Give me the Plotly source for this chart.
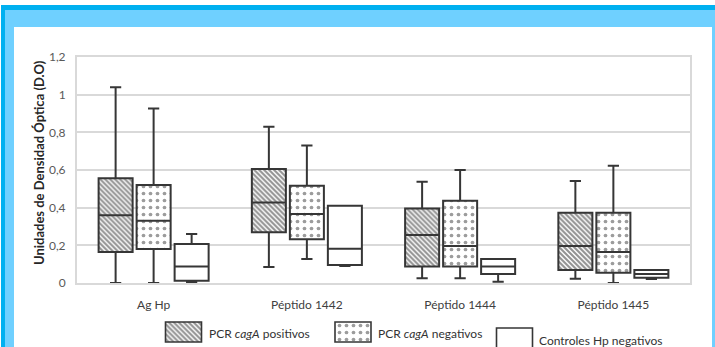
import plotly.graph_objects as go

# ---------------- data ----------------
categories = ["Ag Hp", "Péptido 1442", "Péptido 1444", "Péptido 1445"]

pos_min = [0.0, 0.085, 0.025, 0.023]
pos_q1 = [0.165, 0.27, 0.087, 0.069]
pos_med = [0.36, 0.428, 0.255, 0.196]
pos_q3 = [0.556, 0.605, 0.396, 0.373]
pos_max = [1.04, 0.83, 0.537, 0.541]

neg_min = [0.0, 0.127, 0.025, 0.0]
neg_q1 = [0.18, 0.232, 0.087, 0.055]
neg_med = [0.33, 0.366, 0.196, 0.164]
neg_q3 = [0.52, 0.516, 0.437, 0.373]
neg_max = [0.927, 0.73, 0.6, 0.622]

ctl_min = [0.005, 0.09, 0.007, 0.021]
ctl_q1 = [0.012, 0.095, 0.048, 0.028]
ctl_med = [0.087, 0.182, 0.087, 0.048]
ctl_q3 = [0.207, 0.41, 0.127, 0.069]
ctl_max = [0.26, 0.41, 0.127, 0.069]

series_names = ["PCR <i>cagA</i> positivos", "PCR <i>cagA</i> negativos", "Controles Hp negativos"]

# ---------------- layout constants ----------------
W, H = 715, 347
PX_L, PX_R, PX_T, PX_B = 77, 690, 57, 283     # plot area in pixels
OFFSETS = [-0.248, 0.0, 0.248]
BOX_W = 0.222
FONT = "Lato"
LINE = "#363636"

hatch = dict(shape="\\", size=3.5, solidity=0.6, fgcolor="#262626", bgcolor="white")
dots = dict(shape=".", size=7, solidity=0.22, fgcolor="#3a3a3a", bgcolor="white")
patterns = [hatch, dots, None]

def px_x(p):
    return p / W

def px_y(p):
    return 1 - p / H

fig = go.Figure()

stats = [
    (pos_min, pos_q1, pos_med, pos_q3, pos_max),
    (neg_min, neg_q1, neg_med, neg_q3, neg_max),
    (ctl_min, ctl_q1, ctl_med, ctl_q3, ctl_max),
]

for k, (mn, q1, md, q3, mx) in enumerate(stats):
    xs = [i + OFFSETS[k] for i in range(len(categories))]
    if patterns[k] is not None:
        fig.add_trace(go.Bar(
            x=xs, base=q1, y=[b - a for a, b in zip(q1, q3)],
            width=BOX_W, marker=dict(color="white", pattern=patterns[k], line=dict(width=0)),
            showlegend=False, hoverinfo="skip",
        ))
    fig.add_trace(go.Box(
        x=xs, q1=q1, median=md, q3=q3, lowerfence=mn, upperfence=mx,
        width=BOX_W, whiskerwidth=0.33,
        fillcolor="rgba(0,0,0,0)" if patterns[k] is not None else "white",
        line=dict(color=LINE, width=2), boxpoints=False,
        name=series_names[k], showlegend=False,
    ))

# ---------------- custom legend (swatches on a pixel overlay axis) ----------------
leg_cx = [183.5, 353, 514.5]
leg_top = [322, 322, 328]
leg_h = [20, 20, 24]
for k in range(3):
    fig.add_trace(go.Bar(
        x=[leg_cx[k]], base=[leg_top[k]], y=[leg_h[k]], width=[36],
        marker=dict(color="white", pattern=patterns[k] if patterns[k] else dict(shape=""),
                    line=dict(color=LINE, width=1.6)),
        xaxis="x2", yaxis="y2", showlegend=False, hoverinfo="skip",
    ))

leg_tx = [207, 376, 537]
leg_ty = [333, 333, 340]
annotations = []
for k in range(3):
    annotations.append(dict(
        x=px_x(leg_tx[k]), y=px_y(leg_ty[k]), xref="paper", yref="paper",
        text=series_names[k], showarrow=False, xanchor="left", yanchor="middle",
        font=dict(family=FONT, size=12, color="#333333"),
    ))

annotations.append(dict(
    x=px_x(39), y=px_y(163), xref="paper", yref="paper",
    text="<b>Unidades de Densidad Óptica (D.O)</b>", textangle=-90, showarrow=False,
    xanchor="center", yanchor="middle", font=dict(family=FONT, size=13, color="#262626"),
))

# ---------------- frame ----------------
shapes = [
    dict(type="rect", xref="paper", yref="paper", x0=px_x(1), x1=px_x(730), y0=px_y(5), y1=px_y(370),
         fillcolor="#00B0F0", line=dict(width=0), layer="below"),
    dict(type="rect", xref="paper", yref="paper", x0=px_x(5), x1=px_x(730), y0=px_y(10), y1=px_y(370),
         fillcolor="#6FD0FF", line=dict(width=0), layer="below"),
    dict(type="rect", xref="paper", yref="paper", x0=px_x(14), x1=px_x(712), y0=px_y(27), y1=px_y(370),
         fillcolor="white", line=dict(width=0), layer="below"),
]

fig.update_layout(
    width=W, height=H,
    margin=dict(l=0, r=0, t=0, b=0),
    paper_bgcolor="white", plot_bgcolor="rgba(0,0,0,0)",
    separators=",.",
    barmode="overlay",
    font=dict(family=FONT, size=12, color="#404040"),
    showlegend=False,
    xaxis=dict(
        domain=[px_x(PX_L), px_x(PX_R)], range=[-0.5, len(categories) - 0.5],
        tickvals=list(range(len(categories))), ticktext=categories,
        showgrid=False, zeroline=False, showline=True, mirror=True,
        linecolor="#d9d9d9", linewidth=2, ticks="", ticklabelstandoff=10,
        tickfont=dict(family=FONT, size=12, color="#404040"), automargin=False,
    ),
    yaxis=dict(
        domain=[px_y(PX_B), px_y(PX_T)], range=[0, 1.2], dtick=0.2,
        showgrid=True, gridcolor="#d9d9d9", gridwidth=2, zeroline=False,
        showline=True, mirror=True, linecolor="#d9d9d9", linewidth=2, ticks="",
        ticklabelstandoff=7, tickfont=dict(family=FONT, size=12, color="#595959"),
        automargin=False,
    ),
    xaxis2=dict(domain=[0, 1], range=[0, W], visible=False, anchor="y2", fixedrange=True),
    yaxis2=dict(domain=[0, 1], range=[H, 0], visible=False, anchor="x2", fixedrange=True),
    annotations=annotations,
    shapes=shapes,
)

fig.write_html(
    "out.html",
    config={"displayModeBar": False},
    post_script="document.body.style.margin='0px';document.body.style.overflow='hidden';",
)
